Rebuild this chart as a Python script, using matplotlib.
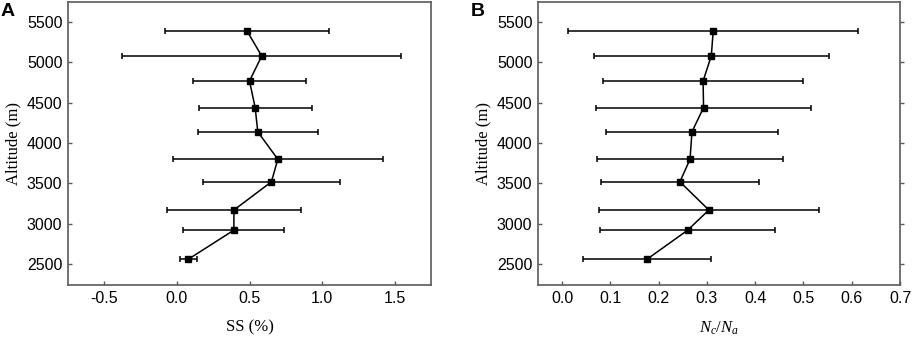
import matplotlib
matplotlib.use("Agg")
import matplotlib.pyplot as plt

plt.rcParams['font.family'] = ['Liberation Sans', 'DejaVu Sans']
plt.rcParams['mathtext.fontset'] = 'custom'
plt.rcParams['mathtext.rm'] = 'Liberation Serif'
plt.rcParams['mathtext.it'] = 'Liberation Serif:italic'

altitude = [5390, 5080, 4770, 4440, 4140, 3800, 3520, 3170, 2920, 2560]

ss_mean = [0.483, 0.584, 0.500, 0.539, 0.557, 0.695, 0.651, 0.393, 0.392, 0.079]
ss_sd = [0.563, 0.962, 0.392, 0.390, 0.415, 0.722, 0.472, 0.460, 0.348, 0.061]

ratio_mean = [0.313, 0.309, 0.292, 0.293, 0.269, 0.265, 0.244, 0.304, 0.260, 0.176]
ratio_sd = [0.300, 0.244, 0.208, 0.223, 0.178, 0.193, 0.164, 0.228, 0.181, 0.133]

yticks = [2500, 3000, 3500, 4000, 4500, 5000, 5500]
ss_ticks = [-0.5, 0.0, 0.5, 1.0, 1.5]
ratio_ticks = [0.0, 0.1, 0.2, 0.3, 0.4, 0.5, 0.6, 0.7]

W, H = 913, 337
fig = plt.figure(figsize=(W / 100, H / 100), dpi=100)
axA = fig.add_axes([68 / W, (H - 285) / H, 363 / W, 283 / H])
axB = fig.add_axes([538 / W, (H - 285) / H, 362 / W, 283 / H])

spine_col = '#5a5a5a'
ylim = (2240, 5750)


def draw(ax, mean, sd, xticks, xlim, xlabel, letter, lx):
    ax.errorbar(mean, altitude, xerr=sd, color='black', lw=1.1, elinewidth=1.1,
                capsize=2.5, capthick=1.1, marker='s', ms=4.5, mfc='black')
    ax.set_ylim(*ylim)
    ax.set_xlim(*xlim)
    ax.set_yticks(yticks)
    ax.set_xticks(xticks)
    ax.set_xticklabels([f"{t:.1f}" for t in xticks])
    ax.tick_params(direction='in', length=3, width=1, color=spine_col, labelsize=11.5, pad=4)
    for s in ax.spines.values():
        s.set_color(spine_col)
        s.set_linewidth(1.2)
    ax.set_ylabel('Altitude (m)', family='Liberation Serif', fontsize=12, labelpad=4)
    ax.set_xlabel(xlabel, family='Liberation Serif', fontsize=12, labelpad=10)
    fig.text(lx / W, 1 - 12 / H, letter, fontsize=14, fontweight='bold', va='center', ha='left')


draw(axA, ss_mean, ss_sd, ss_ticks, (-0.75, 1.75), 'SS (%)', 'A', 1)
draw(axB, ratio_mean, ratio_sd, ratio_ticks, (-0.05, 0.7), r'$N_c/N_a$', 'B', 471)

# outward ticks on the right side of panel B
axR = axB.twinx()
axR.set_ylim(*ylim)
axR.set_yticks(yticks)
axR.tick_params(axis='y', direction='out', length=3, width=1, color=spine_col, labelright=False)
for s in axR.spines.values():
    s.set_visible(False)

fig.savefig('out.png', dpi=100)
